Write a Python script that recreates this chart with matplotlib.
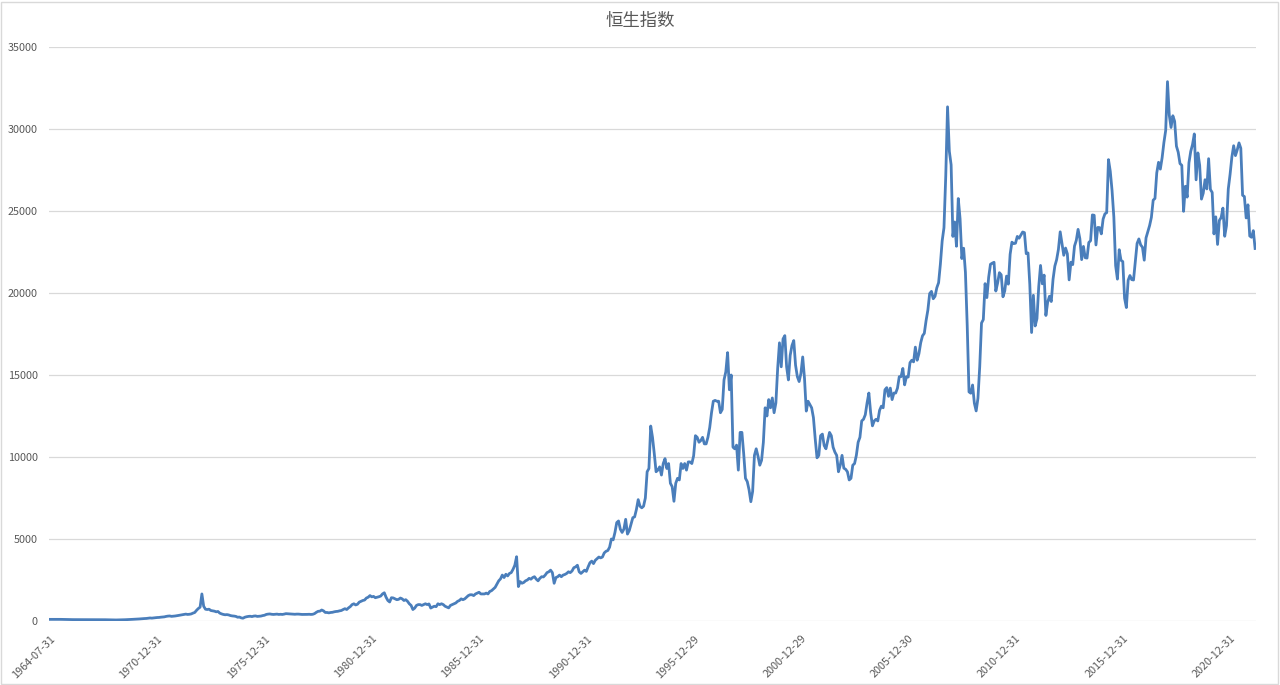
import numpy as np
import matplotlib
matplotlib.use("Agg")
import matplotlib.pyplot as plt
from matplotlib.patches import Rectangle

# Hang Seng index, month-end closes
hsi_1964_1970 = [100, 101, 100, 98, 100, 101,
                 100, 97, 92, 86, 84, 83, 82, 84, 85, 83, 82, 82,
                 82, 83, 84, 82, 81, 80, 79, 79, 80, 80, 80, 81,
                 80, 77, 74, 70, 66, 62, 60, 63, 65, 66, 67,
                 72, 78, 85, 90, 95, 100, 105, 108,
                 115, 125, 135, 140, 150, 156,
                 170, 185, 175, 190, 200, 212]

hsi_1971_1980 = [217, 232, 240, 253, 280, 298, 307, 283, 291, 305, 321, 341,
                 360, 380, 395, 420, 400, 410, 430, 480, 520, 650, 760, 843,
                 1650, 900, 720, 700, 720, 640, 620, 600, 560, 580, 480, 434,
                 400, 380, 390, 370, 330, 310, 300, 280, 230, 240, 190, 171,
                 230, 260, 280, 290, 270, 300, 310, 280, 290, 300, 330, 350,
                 400, 420, 430, 410, 400, 410, 420, 400, 410, 400, 420, 448,
                 440, 430, 420, 420, 410, 420, 420, 410, 400, 400, 405, 404,
                 410, 400, 410, 450, 530, 590, 600, 670, 620, 520, 520, 496,
                 520, 530, 560, 580, 590, 620, 640, 700, 750, 700, 800, 879,
                 1000, 1050, 980, 1020, 1150, 1200, 1250, 1280, 1400, 1450, 1550, 1474]

hsi_1981_1990 = [1500, 1420, 1450, 1480, 1520, 1650, 1720, 1450, 1250, 1160, 1420, 1406,
                 1350, 1300, 1320, 1400, 1350, 1250, 1300, 1200, 1050, 950, 700, 784,
                 950, 1000, 1000, 950, 1000, 1050, 1000, 1040, 790, 850, 900, 875,
                 1050, 1000, 1050, 1000, 900, 850, 800, 950, 1000, 1050, 1100, 1200,
                 1250, 1350, 1300, 1350, 1450, 1550, 1600, 1600, 1550, 1650, 1700, 1752,
                 1650, 1650, 1650, 1700, 1650, 1800, 1850, 1950, 2050, 2250, 2450, 2568,
                 2800, 2650, 2850, 2750, 2900, 2950, 3150, 3400, 3920, 2100, 2400, 2303,
                 2350, 2450, 2500, 2600, 2550, 2650, 2700, 2550, 2450, 2600, 2700, 2687,
                 2800, 2950, 3000, 3100, 2950, 2300, 2650, 2700, 2800, 2700, 2800, 2837,
                 2900, 3000, 2950, 3050, 3250, 3300, 3400, 3000, 2900, 3000, 3100, 3025]

hsi_1991_2000 = [3300, 3550, 3650, 3500, 3700, 3800, 3900, 3850, 3900, 4150, 4250, 4297,
                 4500, 5000, 4950, 5400, 6000, 6100, 5600, 5400, 5600, 6200, 5300, 5512,
                 5900, 6300, 6350, 6800, 7400, 7000, 6900, 7000, 7500, 9100, 9300, 11888,
                 11200, 10200, 9100, 9200, 9400, 8900, 9600, 9900, 9300, 9600, 8400, 8191,
                 7300, 8400, 8700, 8600, 9600, 9300, 9600, 9200, 9700, 9700, 9600, 10073,
                 11300, 11200, 10900, 11000, 11200, 10800, 10800, 11200, 11800, 12700, 13400, 13451,
                 13400, 13400, 12700, 12900, 14700, 15200, 16365, 14100, 15000, 10600, 10500, 10723,
                 9200, 11500, 11500, 10200, 8700, 8500, 8000, 7275, 7900, 10100, 10500, 10049,
                 9500, 9800, 10900, 13000, 12500, 13500, 13000, 13600, 12700, 13300, 15400, 16962,
                 15500, 17200, 17400, 15500, 14700, 16200, 16800, 17100, 15600, 14900, 14600, 15096]

hsi_2001_2010 = [16100, 14800, 12800, 13400, 13200, 13000, 12400, 11100, 9950, 10100, 11300, 11397,
                 10700, 10500, 11000, 11500, 11300, 10600, 10300, 10100, 9100, 9500, 10100, 9321,
                 9250, 9100, 8600, 8700, 9500, 9600, 10100, 10900, 11200, 12200, 12300, 12576,
                 13300, 13900, 12700, 11900, 12200, 12300, 12200, 12850, 13100, 13000, 14100, 14230,
                 13700, 14200, 13500, 13900, 13900, 14200, 14900, 14900, 15400, 14400, 14900, 14876,
                 15750, 15900, 15800, 16700, 15900, 16300, 16970, 17390, 17540, 18320, 18960, 19965,
                 20100, 19650, 19800, 20320, 20630, 21770, 23180, 23980, 27140, 31352, 28640, 27813,
                 23450, 24330, 22850, 25760, 24530, 22100, 22730, 21260, 18020, 13970, 13890, 14390,
                 13280, 12810, 13580, 15520, 18170, 18380, 20570, 19720, 20960, 21750, 21820, 21873,
                 20120, 20610, 21240, 21110, 19770, 20130, 21030, 20540, 22360, 23100, 23010, 23035]

hsi_2011_2020 = [23450, 23340, 23530, 23720, 23680, 22400, 22440, 20530, 17590, 19860, 17990, 18434,
                 20390, 21680, 20560, 21090, 18630, 19440, 19800, 19480, 20840, 21640, 22030, 22657,
                 23730, 23020, 22300, 22740, 22390, 20800, 21880, 21730, 22860, 23210, 23880, 23306,
                 22035, 22840, 22150, 22130, 23080, 23190, 24760, 24740, 22930, 23998, 23987, 23605,
                 24507, 24823, 24901, 28133, 27424, 26250, 24636, 21671, 20846, 22640, 21996, 21914,
                 19683, 19112, 20777, 21067, 20815, 20794, 21891, 23023, 23297, 22935, 22790, 22001,
                 23361, 23741, 24112, 24615, 25661, 25765, 27323, 27970, 27554, 28246, 29177, 29919,
                 32887, 30845, 30093, 30808, 30469, 28955, 28583, 27889, 27789, 24980, 26507, 25846,
                 27942, 28633, 29051, 29699, 26901, 28543, 27778, 25725, 26092, 26907, 26346, 28190,
                 26313, 26130, 23603, 24644, 22961, 24427, 24595, 25177, 23459, 24107, 26341, 27231]

hsi_2021_2022 = [28284, 28980, 28378, 28725, 29152, 28828, 25961, 25879, 24576, 25377, 23475, 23398,
                 23802, 22713]

tick_labels = ['1964-07-31', '1970-12-31', '1975-12-31', '1980-12-31', '1985-12-31',
               '1990-12-31', '1995-12-29', '2000-12-29', '2005-12-30', '2010-12-31',
               '2015-12-31', '2020-12-31']

values = (hsi_1964_1970 + hsi_1971_1980 + hsi_1981_1990 + hsi_1991_2000
          + hsi_2001_2010 + hsi_2011_2020 + hsi_2021_2022)
x = np.arange(len(values))

plt.rcParams['font.family'] = ['Noto Sans CJK SC', 'DejaVu Sans']
text_color = '#595959'
grid_color = '#d9d9d9'

fig = plt.figure(figsize=(12.8, 6.85), dpi=100)
ax = fig.add_axes([49 / 1280, 64 / 685, 1207 / 1280, 574 / 685])

ax.plot(x, values, color='#4a7ebb', linewidth=2.0, solid_joinstyle='round')

ax.set_xlim(-0.5, len(values) - 0.5)
ax.set_ylim(0, 35000)
ax.set_yticks(np.arange(0, 35001, 5000))
ax.set_yticklabels([str(v) for v in range(0, 35001, 5000)])
ax.set_xticks(np.arange(0, len(values), 60))
ax.set_xticklabels(tick_labels, rotation=45, ha='right', rotation_mode='anchor')

ax.grid(axis='y', color=grid_color, linewidth=0.9)
ax.set_axisbelow(True)
for s in ax.spines.values():
    s.set_visible(False)
ax.tick_params(axis='both', length=0, labelsize=7.8, labelcolor=text_color)
ax.tick_params(axis='y', pad=8)
ax.tick_params(axis='x', pad=9)

fig.text(0.5, 1 - 21 / 685, '恒生指数', ha='center', va='center',
         fontsize=12.5, color=text_color)

# chart border
fig.patches.append(Rectangle((0.5 / 1280, 1.5 / 685), 1 - 2.5 / 1280, 1 - 3 / 685,
                             transform=fig.transFigure, fill=False,
                             edgecolor=grid_color, linewidth=1))

fig.savefig('out.png', dpi=100)
